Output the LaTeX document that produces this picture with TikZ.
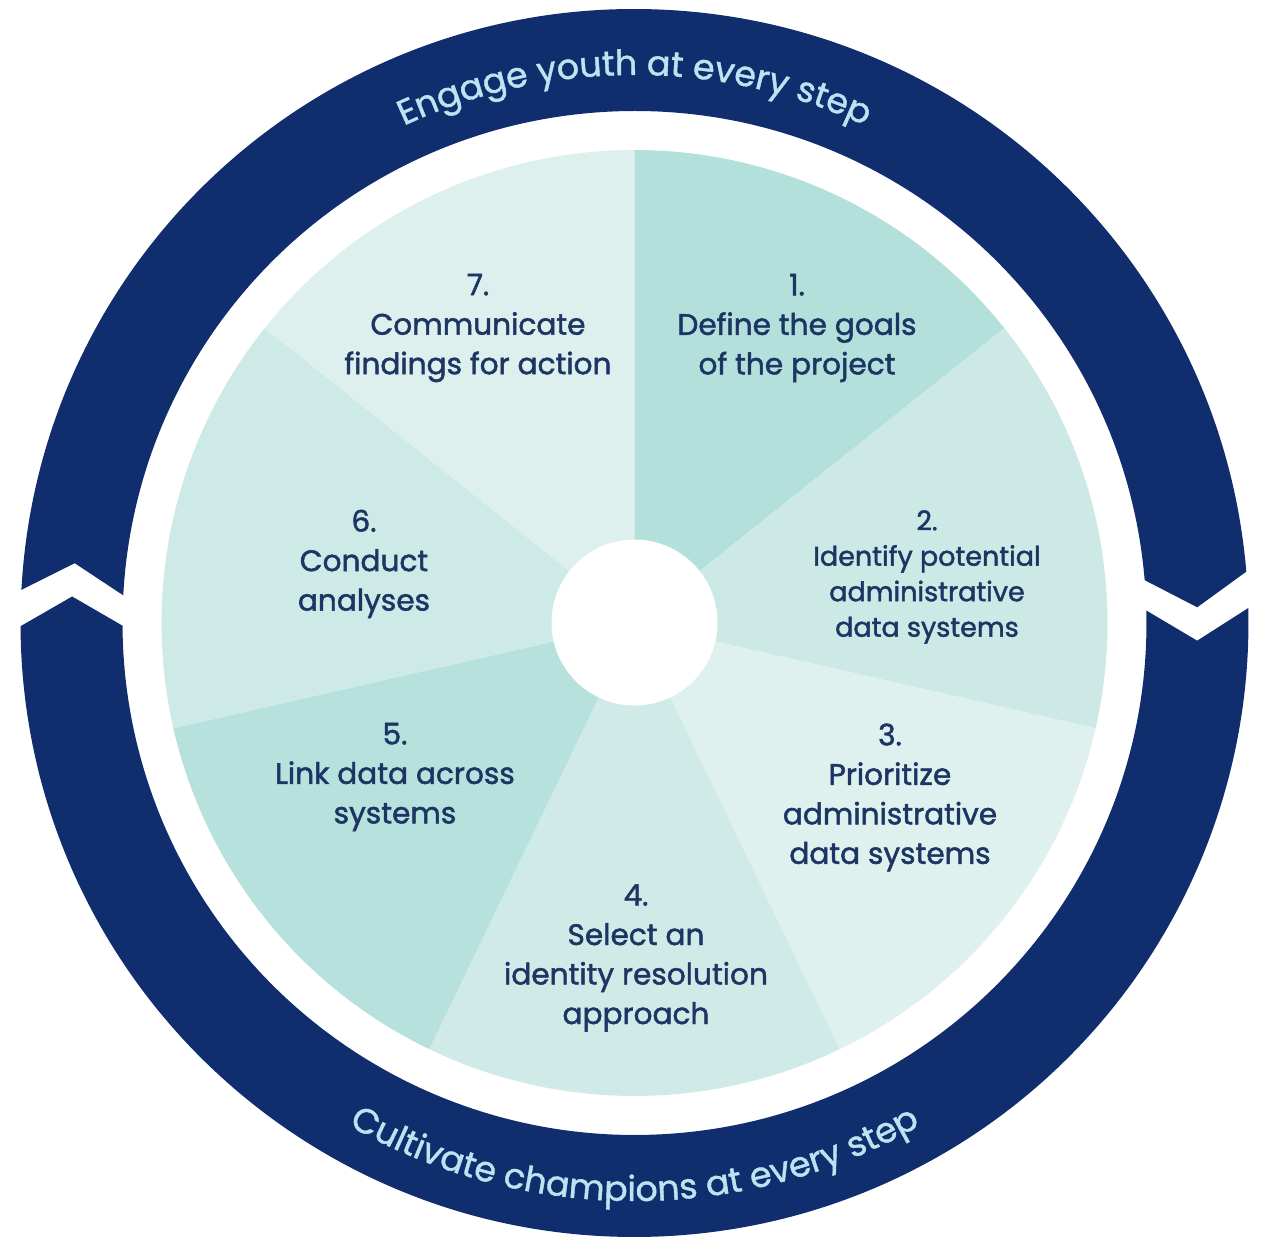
\documentclass[tikz,border=0pt]{standalone}
\usepackage{fontspec}
\setmainfont{Poppins}
\newfontfamily\lblfont{Poppins}[FakeBold=1.6]
\newfontfamily\rngfont{Poppins}[FakeBold=1.2]
\usetikzlibrary{decorations.text}
\definecolor{navy}{HTML}{102E6E}
\definecolor{ringtext}{HTML}{BDE3F1}
\definecolor{labelc}{HTML}{1C3563}
\definecolor{sA}{HTML}{B3E0DB}
\definecolor{sB}{HTML}{CCE9E5}
\definecolor{sC}{HTML}{DFF1EE}
\definecolor{sD}{HTML}{D0EBE7}
\definecolor{sE}{HTML}{B6E1DC}
\definecolor{sF}{HTML}{CDEAE6}
\definecolor{sG}{HTML}{DDF0EE}
\newcommand{\ringfnt}{\rngfont\fontsize{17.4}{20}\selectfont}
\begin{document}
\begin{tikzpicture}[x=0.5pt,y=0.5pt,
  seglabel/.style={align=center, text=labelc, font=\lblfont\fontsize{14.8}{19.75}\selectfont, inner sep=0pt},
  seglabelsmall/.style={seglabel, font=\lblfont\fontsize{13.5}{17.75}\selectfont},
  ringband/.style={fill=navy}]
\useasboundingbox (-634.5,-616) rectangle (631.5,623);
\fill[white] (-634.5,-616) rectangle (631.5,623);
% pie segments
\foreach \i/\c in {1/sA,2/sB,3/sC,4/sD,5/sE,6/sF,7/sG}{
  \pgfmathsetmacro\a{90-(\i-1)*360/7}
  \pgfmathsetmacro\b{90-\i*360/7}
  \fill[\c] (0,0) -- (\a:473) arc[start angle=\a, end angle=\b, radius=473] -- cycle;
}
\fill[white] (0,0.5) circle[radius=83];
% top ring arc (arrow tip at right)
\fill[ringband] (176.9:614) arc[start angle=176.9, end angle=4.8, radius=614]
  -- (1.6:563) -- (4.8:512) arc[start angle=4.8, end angle=176.9, radius=512]
  -- (173.9:563) -- cycle;
% bottom ring arc (arrow tip at left)
\fill[ringband] (180.3:614) arc[start angle=180.3, end angle=361.4, radius=614]
  -- (358.2:563) -- (361.4:512) arc[start angle=361.4, end angle=180.3, radius=512]
  -- (177.3:563) -- cycle;
% ring texts
\path[decorate, decoration={text along path, text align=center, text color=ringtext,
  text={|\ringfnt|Engage youth at every step}}]
  (180:548) arc[start angle=180, end angle=0, radius=548];
\path[decorate, decoration={text along path, text align=center, text color=ringtext,
  text={|\ringfnt|Cultivate champions at every step}}]
  (180:578) arc[start angle=180, end angle=360, radius=578];
% labels
\node[seglabel] (l1) at (162.5,295) {1.\\Define the goals\\of the project};
\node[seglabelsmall] (l2) at (292.5,46) {2.\\Identify potential\\administrative\\data systems};
\node[seglabel] (l3) at (255.5,-174.5) {3.\\Prioritize\\administrative\\data systems};
\node[seglabel] (l4) at (1.5,-335) {4.\\Select an\\identity resolution\\approach};
\node[seglabel] (l5) at (-239.5,-154) {5.\\Link data across\\systems};
\node[seglabel] (l6) at (-270.5,59) {6.\\Conduct\\analyses};
\node[seglabel] (l7) at (-156.5,295) {7.\\Communicate\\findings for action};
\end{tikzpicture}
\end{document}
